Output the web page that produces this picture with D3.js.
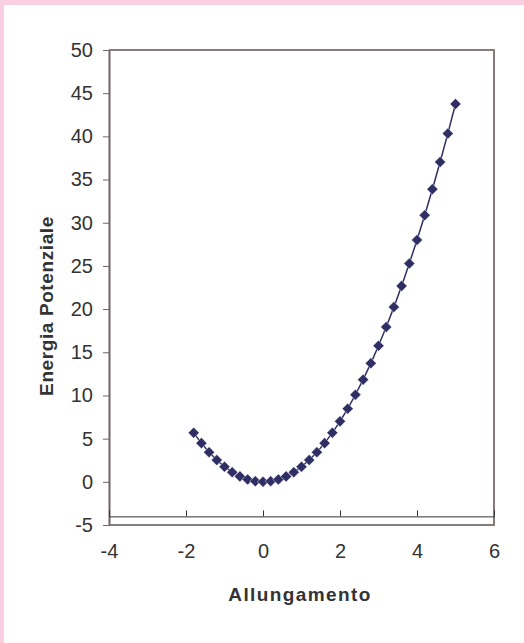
<!DOCTYPE html>
<html>
<head>
<meta charset="utf-8">
<script src="https://cdn.jsdelivr.net/npm/d3@7"></script>
<style>
  html, body { margin: 0; padding: 0; background: #fff; }
  svg { display: block; }
  .tick text { font-family: "Liberation Sans", Arial, sans-serif; font-size: 20px; fill: #333; }
</style>
</head>
<body>
<svg id="chart" width="524" height="643"></svg>
<script>
// values
const allungamento = [-1.8, -1.6, -1.4, -1.2, -1.0, -0.8, -0.6, -0.4, -0.2, 0,
  0.2, 0.4, 0.6, 0.8, 1.0, 1.2, 1.4, 1.6, 1.8, 2.0,
  2.2, 2.4, 2.6, 2.8, 3.0, 3.2, 3.4, 3.6, 3.8, 4.0,
  4.2, 4.4, 4.6, 4.8, 5.0];
const energia = [5.67, 4.48, 3.43, 2.52, 1.75, 1.12, 0.63, 0.28, 0.07, 0,
  0.07, 0.28, 0.63, 1.12, 1.75, 2.52, 3.43, 4.48, 5.67, 7.0,
  8.47, 10.08, 11.83, 13.72, 15.75, 17.92, 20.23, 22.68, 25.27, 28.0,
  30.87, 33.88, 37.03, 40.32, 43.75];
const xTicks = [-4, -2, 0, 2, 4, 6];
const yTicks = [-5, 0, 5, 10, 15, 20, 25, 30, 35, 40, 45, 50];

const data = allungamento.map((x, i) => ({ x: x, y: energia[i] }));

const svg = d3.select("#chart");

// pink frame strips (top / left)
svg.append("rect").attr("x", 0).attr("y", 0).attr("width", 524).attr("height", 5).attr("fill", "#f9cfe1");
svg.append("rect").attr("x", 0).attr("y", 0).attr("width", 4).attr("height", 643).attr("fill", "#f9cfe1");

const plot = { left: 109, right: 494, top: 50, bottom: 525 };

const x = d3.scaleLinear().domain([-4, 6]).range([plot.left, plot.right]);
const y = d3.scaleLinear().domain([-5, 50]).range([plot.bottom, plot.top]);

// plot area border
const border = "#877c7a";
svg.append("path")
  .attr("d", `M${plot.left},${plot.top}H${plot.right}V${plot.bottom}H${plot.left}`)
  .attr("fill", "none")
  .attr("stroke", border)
  .attr("stroke-width", 2);

// plain hyphen minus, like the original
const fmt = d => String(d);

// y axis
const yAxis = svg.append("g")
  .attr("transform", `translate(${plot.left},0)`)
  .call(d3.axisLeft(y).tickValues(yTicks).tickFormat(fmt).tickSizeInner(6).tickSizeOuter(0).tickPadding(10));
yAxis.select(".domain").attr("stroke", "#6e6462").attr("stroke-width", 2);
yAxis.selectAll(".tick line").attr("stroke", "#6e6462");

// x axis crosses at y = -4
const xAxis = svg.append("g")
  .attr("transform", `translate(0,${y(-4)})`)
  .call(d3.axisBottom(x).tickValues(xTicks).tickFormat(fmt).tickSizeInner(-6).tickSizeOuter(0).tickPadding(27));
xAxis.select(".domain").attr("stroke", "#333");
xAxis.selectAll(".tick line").attr("stroke", "#333");

// line + markers
const navy = "#2f2f66";
svg.append("path")
  .datum(data)
  .attr("fill", "none")
  .attr("stroke", navy)
  .attr("stroke-width", 1.5)
  .attr("d", d3.line().x(d => x(d.x)).y(d => y(d.y)));

svg.append("g").selectAll("rect")
  .data(data)
  .join("rect")
  .attr("x", -3.9).attr("y", -3.9)
  .attr("width", 7.8).attr("height", 7.8)
  .attr("fill", navy)
  .attr("stroke", "#fff").attr("stroke-width", 0.4)
  .attr("transform", d => `translate(${x(d.x)},${y(d.y)}) rotate(45)`);

// axis titles
svg.append("text")
  .attr("x", 300).attr("y", 601)
  .attr("text-anchor", "middle")
  .attr("font-family", "Liberation Sans, Arial, sans-serif")
  .attr("font-size", 19).attr("font-weight", "bold")
  .attr("letter-spacing", 1.4)
  .attr("fill", "#333")
  .text("Allungamento");

svg.append("text")
  .attr("transform", "translate(53,306) rotate(-90)")
  .attr("text-anchor", "middle")
  .attr("font-family", "Liberation Sans, Arial, sans-serif")
  .attr("font-size", 19).attr("font-weight", "bold")
  .attr("letter-spacing", 0.6)
  .attr("fill", "#333")
  .text("Energia Potenziale");
</script>
</body>
</html>
